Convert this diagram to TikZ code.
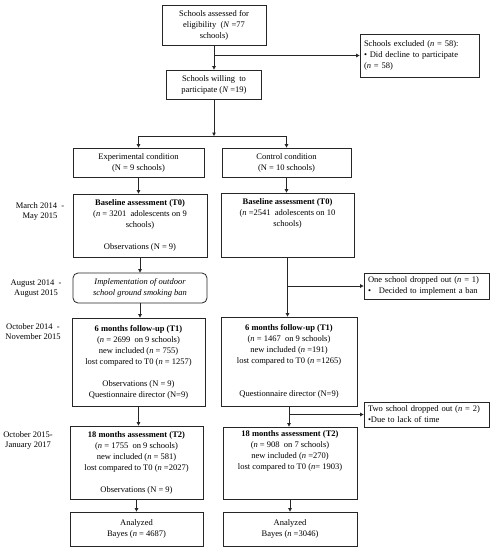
\documentclass[tikz,border=0pt]{standalone}
\usepackage{fontspec}
\setmainfont{Liberation Serif}
\usetikzlibrary{arrows.meta}
\begin{document}
\begin{tikzpicture}[x=1pt,y=-1pt,
  every node/.style={font=\fontsize{8.5}{11}\selectfont},
  box/.style={draw=black!85,line width=0.8pt,rectangle,align=center,inner sep=2pt},
  lbox/.style={draw=black!85,line width=0.8pt,rectangle,align=left,inner sep=4pt},
  datel/.style={align=center,inner sep=0pt,font=\fontsize{8.5}{10}\selectfont},
  arr/.style={draw=black!85,line width=0.8pt,-{Triangle[length=3.5pt,width=3.5pt]}},
  ln/.style={draw=black!85,line width=0.8pt}]
\useasboundingbox (0,0) rectangle (495,550);
\fill[white] (0,0) rectangle (495,550);

% top
\node[box,minimum width=104pt,minimum height=40pt] (top) at (214,25) {Schools assessed for\\eligibility \ (\textit{N} =77\\schools)};
\node[box,minimum width=95pt,minimum height=29pt] (will) at (214,84.5) {Schools willing \ to\\participate (\textit{N} =19)};
\node[lbox,minimum width=119pt,minimum height=43pt,text width=111pt] (excl) at (419.5,55.5) {Schools excluded (\textit{n} = 58):\\• Did decline to participate\\(\textit{n} = 58)};

% conditions
\node[box,minimum width=131pt,minimum height=29pt] (exp) at (138.5,162.5) {Experimental condition\\(N = 9 schools)};
\node[box,minimum width=129pt,minimum height=29pt] (ctrl) at (286.5,162.5) {Control condition\\(N = 10 schools)};

% baseline
\node[box,minimum width=134pt,minimum height=63pt] (baseL) at (140,225.5) {\textbf{Baseline assessment (T0)}\\(\textit{n} = 3201 \ adolescents on 9\\schools)\\\strut\\Observations (N = 9)};
\node[box,minimum width=133pt,minimum height=64pt] (baseR) at (287.5,225) {\textbf{Baseline assessment (T0)}\\(\textit{n} =2541 \ adolescents on 10\\schools)\\\strut\\\strut};

% implementation
\node[box,rounded corners=5pt,minimum width=134pt,minimum height=30pt] (impl) at (140,288) {\textit{Implementation of outdoor}\\\textit{school ground smoking ban}};
\node[lbox,minimum width=125pt,minimum height=26pt,text width=117pt,inner sep=3pt] (one) at (426.5,286) {One school dropped out (\textit{n} = 1)\\•\hspace{8pt}Decided to implement a ban};

% T1
\node[box,minimum width=133pt,minimum height=88pt] (t1L) at (138.5,362) {\textbf{6 months follow-up (T1)}\\(\textit{n} = 2699 \ on 9 schools)\\new included (\textit{n} = 755)\\lost compared to T0 (\textit{n} = 1257)\\\strut\\Observations (N = 9)\\Questionnaire director (N=9)};
\node[box,minimum width=136pt,minimum height=89pt] (t1R) at (289,361.5) {\textbf{6 months follow-up (T1)}\\(\textit{n} = 1467 \ on 9 schools)\\new included (\textit{n} =191)\\lost compared to T0 (\textit{n} =1265)\\\strut\\\strut\\Questionnaire director (N=9)};
\node[lbox,minimum width=125pt,minimum height=25pt,text width=117pt,inner sep=3pt] (two) at (426.5,414.5) {Two school dropped out (\textit{n} = 2)\\•Due to lack of time};

% T2
\node[box,minimum width=133pt,minimum height=73pt] (t2L) at (136.5,462.5) {\textbf{18 months assessment (T2)}\\(\textit{n} = 1755 \ on 9 schools)\\new included (\textit{n} = 581)\\lost compared to T0 (\textit{n} =2027)\\\strut\\Observations (N = 9)};
\node[box,minimum width=134pt,minimum height=72pt] (t2R) at (290,463) {\textbf{18 months assessment (T2)}\\(\textit{n} = 908 \ on 7 schools)\\new included (\textit{n} =270)\\lost compared to T0 (\textit{n}= 1903)\\\strut\\\strut};

% analyzed
\node[box,minimum width=133pt,minimum height=34pt] (anL) at (136.5,529) {Analyzed\\Bayes (\textit{n} = 4687)};
\node[box,minimum width=134pt,minimum height=34pt] (anR) at (290,529) {Analyzed\\Bayes (\textit{n} =3046)};

% dates
\node[datel] (d1) at (40,211) {March 2014 \ -\\May 2015};
\node[datel] (d2) at (36,289) {August 2014 \ -\\August 2015};
\node[datel] (d3) at (33,332) {October 2014 \ -\\November 2015};
\node[datel] (d4) at (28,440) {October 2015-\\January 2017};

% connectors
\draw[arr] (top.south) -- (will.north);
\draw[arr] (top.south |- excl.west) -- (excl.west);
\coordinate (split) at (will.south |- 0,136);
\draw[arr] (will.south) -- (split);
\draw[ln] (exp.north |- split) -- (ctrl.north |- split);
\draw[arr] (exp.north |- split) -- (exp.north);
\draw[arr] (ctrl.north |- split) -- (ctrl.north);

\draw[arr] (exp.south) -- (exp.south |- baseL.north);
\draw[arr] (baseL.south) -- (baseL.south |- impl.north);
\draw[arr] (impl.south) -- (impl.south |- t1L.north);
\draw[arr] (t1L.south) -- (t1L.south |- t2L.north);
\draw[arr] (t2L.south) -- (t2L.south |- anL.north);

\draw[arr] (ctrl.south) -- (ctrl.south |- baseR.north);
\draw[arr] (baseR.south) -- (baseR.south |- t1R.north);
\draw[arr] (baseR.south |- one.west) -- (one.west);
\draw[arr] (t1R.south) -- (t1R.south |- t2R.north);
\draw[arr] (t1R.south |- two.west) -- (two.west);
\draw[arr] (t2R.south) -- (t2R.south |- anR.north);
\end{tikzpicture}
\end{document}
